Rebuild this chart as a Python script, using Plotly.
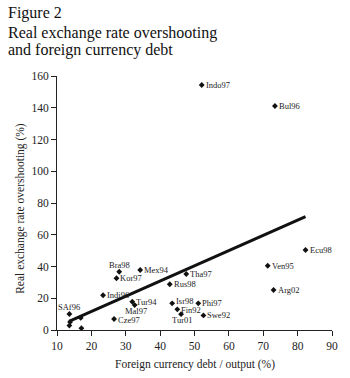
import plotly.graph_objects as go

# Labelled observations
labels = ["Indo97", "Bul96", "Ecu98", "Ven95", "Arg02", "Tha97", "Mex94", "Rus98",
          "Isr98", "Phi97", "Fin92", "Swe92", "Tur01", "Tur94", "Mal97", "Bra98",
          "Kor97", "Indi96", "Cze97", "SAf96"]
debt = [52.1, 73.4, 82.3, 71.3, 73.0, 47.6, 34.2, 42.8,
        43.5, 51.1, 45.0, 52.6, 46.1, 31.9, 32.6, 28.1,
        27.3, 23.4, 26.6, 13.6]
overshoot = [154.3, 141.1, 50.4, 40.5, 25.2, 35.3, 37.8, 28.8,
             16.8, 16.8, 13.0, 9.2, 10.0, 17.8, 15.7, 36.7,
             32.6, 21.9, 6.9, 10.1]
# label placement: r = right of marker, b = below, t = above
label_side = ["r", "r", "r", "r", "r", "r", "r", "r",
              "r", "r", "r", "r", "b", "r", "b", "t",
              "r", "r", "r", "t"]

# Unlabelled observations
extra_debt = [13.6, 13.8, 16.9, 17.1]
extra_over = [2.8, 5.0, 7.6, 1.1]

# Fitted trend line end points
trend_x = [13.5, 82.3]
trend_y = [5.5, 71.4]

x_ticks = [10, 20, 30, 40, 50, 60, 70, 80, 90]
y_ticks = [0, 20, 40, 60, 80, 100, 120, 140, 160]

SERIF = "Liberation Serif"

fig = go.Figure()
fig.add_trace(go.Scatter(x=trend_x, y=trend_y, mode="lines",
                         line=dict(color="#111", width=3), hoverinfo="skip"))
fig.add_trace(go.Scatter(x=debt + extra_debt, y=overshoot + extra_over, mode="markers",
                         marker=dict(symbol="diamond", size=4.5, color="#111")))

for name, xv, yv, side in zip(labels, debt, overshoot, label_side):
    if side == "r":
        kw = dict(xanchor="left", xshift=3, yshift=0)
        if name == "Fin92":
            kw["yshift"] = -1
        if name == "Isr98":
            kw["yshift"] = 2
        if name == "Cze97":
            kw["yshift"] = -1
    elif side == "b":
        kw = dict(xanchor="center", xshift=1, yshift=-6)
    else:
        kw = dict(xanchor="center", xshift=0, yshift=7)
    fig.add_annotation(x=xv, y=yv, text=name, showarrow=False, yanchor="middle",
                       font=dict(family=SERIF, size=8.5, color="#222"),
                       borderpad=0, **kw)

L, R, T, B = 57, 12, 76, 48
W, H = 350, 378
pw, ph = W - L - R, H - T - B

def px(x):
    return (x - L) / pw

def py(y):
    return (H - B - y) / ph

fig.update_layout(
    width=W, height=H,
    margin=dict(l=L, r=R, t=T, b=B, pad=0),
    paper_bgcolor="white", plot_bgcolor="white",
    showlegend=False,
    font=dict(family=SERIF, size=11, color="#222"),
    xaxis=dict(range=[10, 90], tickvals=x_ticks, ticks="outside", ticklen=5,
               tickcolor="#222", showline=True, linecolor="#222", linewidth=1,
               showgrid=False, zeroline=False,
               tickfont=dict(family=SERIF, size=11.5, color="#222")),
    yaxis=dict(range=[0, 160], tickvals=y_ticks, ticks="outside", ticklen=5,
               tickcolor="#222", showline=True, linecolor="#222", linewidth=1,
               showgrid=False, zeroline=False,
               tickfont=dict(family=SERIF, size=11.5, color="#222")),
)

annots = [
    dict(text="Figure 2", x=px(5), y=py(13), size=16),
    dict(text="Real exchange rate overshooting", x=px(5), y=py(33), size=16),
    dict(text="and foreign currency debt", x=px(5), y=py(50), size=16),
]
for a in annots:
    fig.add_annotation(text=a["text"], xref="paper", yref="paper", x=a["x"], y=a["y"],
                       xanchor="left", yanchor="middle", showarrow=False,
                       font=dict(family=SERIF, size=a["size"], color="#111"))

fig.add_annotation(text="Foreign currency debt / output (%)", xref="paper", yref="paper",
                   x=px(198), y=py(364), xanchor="center", yanchor="middle",
                   showarrow=False, font=dict(family=SERIF, size=11.5, color="#222"))
fig.add_annotation(text="Real exchange rate overshooting (%)", xref="paper", yref="paper",
                   x=px(19), y=py(208), xanchor="center", yanchor="middle",
                   textangle=-90, showarrow=False,
                   font=dict(family=SERIF, size=11.5, color="#222"))

fig.write_html("out.html")
